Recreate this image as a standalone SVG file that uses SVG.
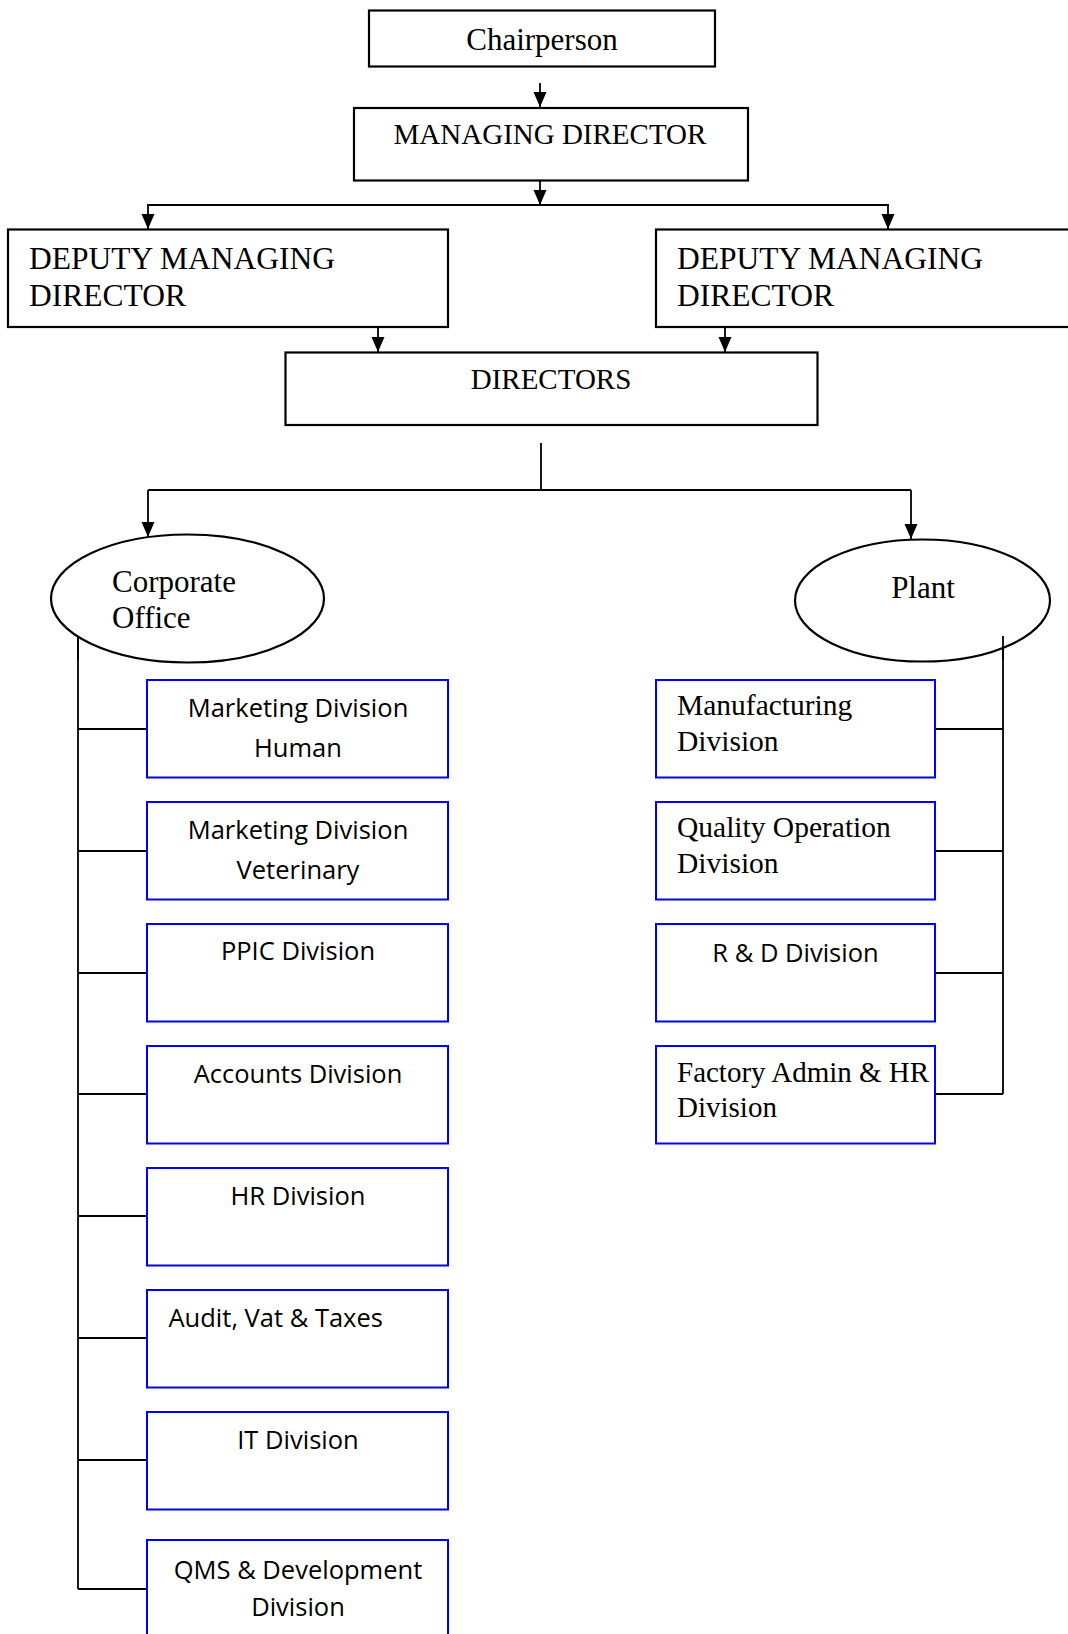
<svg xmlns="http://www.w3.org/2000/svg" width="1068" height="1634" viewBox="0 0 1068 1634">
<style>
.bx{fill:#fff;stroke:#000;stroke-width:2.2}
.bl{fill:#fff;stroke:#0000ff;stroke-width:2}
.el{fill:#fff;stroke:#000;stroke-width:2.2}
.ln{fill:none;stroke:#000;stroke-width:1.8}
.sr{font-family:"Liberation Serif","Times New Roman",serif;fill:#000}
.ss{font-family:"Open Sans","Noto Sans",sans-serif;font-size:25.5px;fill:#000}
</style>
<defs>
<marker id="ah" markerWidth="16" markerHeight="14" refX="15" refY="6.5" orient="auto" markerUnits="userSpaceOnUse">
<path d="M0,0 L15,6.5 L0,13 z" fill="#000"/>
</marker>
</defs>
<rect width="1068" height="1634" fill="#fff"/>
<g id="connectors">
<line class="ln" x1="540" y1="83" x2="540" y2="107" marker-end="url(#ah)"/>
<line class="ln" x1="540" y1="181" x2="540" y2="205" marker-end="url(#ah)"/>
<polyline class="ln" points="148,206 148,205 888,205 888,206"/>
<line class="ln" x1="148" y1="205" x2="148" y2="229" marker-end="url(#ah)"/>
<line class="ln" x1="888" y1="205" x2="888" y2="229" marker-end="url(#ah)"/>
<line class="ln" x1="378" y1="328" x2="378" y2="352" marker-end="url(#ah)"/>
<line class="ln" x1="725" y1="328" x2="725" y2="352" marker-end="url(#ah)"/>
<line class="ln" x1="541" y1="443" x2="541" y2="490"/>
<line class="ln" x1="148" y1="490" x2="911" y2="490"/>
<line class="ln" x1="148" y1="490" x2="148" y2="537" marker-end="url(#ah)"/>
<line class="ln" x1="911" y1="490" x2="911" y2="539" marker-end="url(#ah)"/>
<line class="ln" x1="78" y1="636" x2="78" y2="1589"/>
<line class="ln" x1="78" y1="729" x2="147" y2="729"/>
<line class="ln" x1="78" y1="851" x2="147" y2="851"/>
<line class="ln" x1="78" y1="973" x2="147" y2="973"/>
<line class="ln" x1="78" y1="1094" x2="147" y2="1094"/>
<line class="ln" x1="78" y1="1216" x2="147" y2="1216"/>
<line class="ln" x1="78" y1="1338" x2="147" y2="1338"/>
<line class="ln" x1="78" y1="1460" x2="147" y2="1460"/>
<line class="ln" x1="78" y1="1589" x2="147" y2="1589"/>
<line class="ln" x1="1003" y1="636" x2="1003" y2="1094"/>
<line class="ln" x1="935" y1="729" x2="1003" y2="729"/>
<line class="ln" x1="935" y1="851" x2="1003" y2="851"/>
<line class="ln" x1="935" y1="973" x2="1003" y2="973"/>
<line class="ln" x1="935" y1="1094" x2="1003" y2="1094"/>
</g>
<g id="chairperson"><rect class="bx" x="369" y="10.5" width="346" height="56"/><text class="sr" x="542" y="50" font-size="31" text-anchor="middle">Chairperson</text></g>
<g id="managing-director"><rect class="bx" x="354" y="108" width="394" height="72.5"/><text class="sr" x="550" y="144" font-size="29" text-anchor="middle">MANAGING DIRECTOR</text></g>
<g id="dmd-left"><rect class="bx" x="8" y="229.5" width="440" height="97.5"/><text class="sr" x="29" y="269" font-size="31.5">DEPUTY MANAGING</text><text class="sr" x="29" y="306" font-size="31.5">DIRECTOR</text></g>
<g id="dmd-right"><rect class="bx" x="656" y="229.5" width="420" height="97.5"/><text class="sr" x="677" y="269" font-size="31.5">DEPUTY MANAGING</text><text class="sr" x="677" y="306" font-size="31.5">DIRECTOR</text></g>
<g id="directors"><rect class="bx" x="285.5" y="352.5" width="532" height="72.5"/><text class="sr" x="551" y="389" font-size="29" text-anchor="middle">DIRECTORS</text></g>
<g id="corporate-office"><ellipse class="el" cx="187.5" cy="598.5" rx="136.5" ry="64"/><text class="sr" x="112" y="592" font-size="31">Corporate</text><text class="sr" x="112" y="628" font-size="31">Office</text></g>
<g id="plant"><ellipse class="el" cx="922.5" cy="600.5" rx="127.5" ry="61"/><text class="sr" x="923" y="598" font-size="31" text-anchor="middle">Plant</text></g>
<g id="connectors-overlay">
<line class="ln" x1="78" y1="636" x2="78" y2="660"/>
<line class="ln" x1="1003" y1="636" x2="1003" y2="660"/>
</g>
<g id="marketing-human"><rect class="bl" x="147" y="680" width="301" height="97.5"/><text class="ss" x="298" y="717" text-anchor="middle">Marketing Division</text><text class="ss" x="298" y="757" text-anchor="middle">Human</text></g>
<g id="marketing-veterinary"><rect class="bl" x="147" y="802" width="301" height="97.5"/><text class="ss" x="298" y="838.5" text-anchor="middle">Marketing Division</text><text class="ss" x="298" y="878.5" text-anchor="middle">Veterinary</text></g>
<g id="ppic"><rect class="bl" x="147" y="924" width="301" height="97.5"/><text class="ss" x="298" y="960" text-anchor="middle">PPIC Division</text></g>
<g id="accounts"><rect class="bl" x="147" y="1046" width="301" height="97.5"/><text class="ss" x="298" y="1082.5" text-anchor="middle">Accounts Division</text></g>
<g id="hr"><rect class="bl" x="147" y="1168" width="301" height="97.5"/><text class="ss" x="298" y="1205" text-anchor="middle">HR Division</text></g>
<g id="audit"><rect class="bl" x="147" y="1290" width="301" height="97.5"/><text class="ss" x="168.5" y="1327">Audit, Vat &amp; Taxes</text></g>
<g id="it"><rect class="bl" x="147" y="1412" width="301" height="97.5"/><text class="ss" x="298" y="1448.5" text-anchor="middle">IT Division</text></g>
<g id="qms"><rect class="bl" x="147" y="1540" width="301" height="110"/><text class="ss" x="298" y="1578.5" text-anchor="middle">QMS &amp; Development</text><text class="ss" x="298" y="1616" text-anchor="middle">Division</text></g>
<g id="manufacturing"><rect class="bl" x="656" y="680" width="279" height="97.5"/><text class="sr" x="677" y="715" font-size="29.5">Manufacturing</text><text class="sr" x="677" y="751" font-size="29.5">Division</text></g>
<g id="quality"><rect class="bl" x="656" y="802" width="279" height="97.5"/><text class="sr" x="677" y="837" font-size="29.5">Quality Operation</text><text class="sr" x="677" y="873" font-size="29.5">Division</text></g>
<g id="rnd"><rect class="bl" x="656" y="924" width="279" height="97.5"/><text class="ss" x="795.5" y="962" text-anchor="middle">R &amp; D Division</text></g>
<g id="factory-admin"><rect class="bl" x="656" y="1046" width="279" height="97.5"/><text class="sr" x="677" y="1082" font-size="29">Factory Admin &amp; HR</text><text class="sr" x="677" y="1117" font-size="29">Division</text></g>
</svg>
